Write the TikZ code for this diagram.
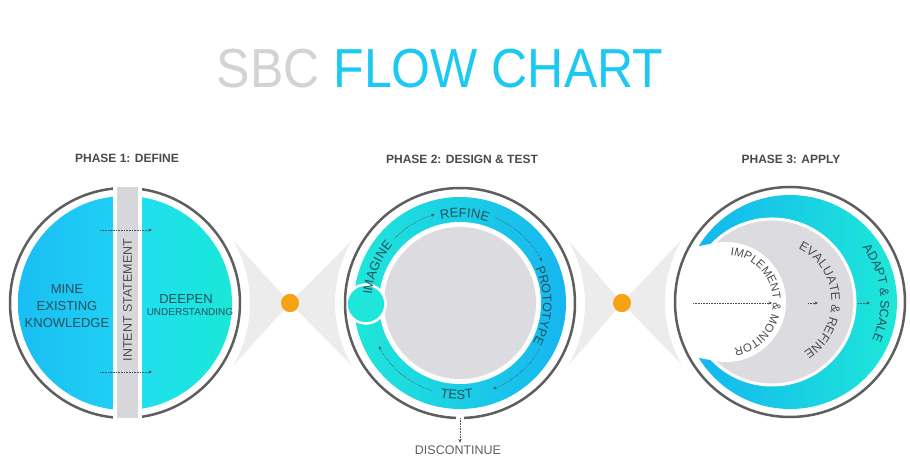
\documentclass[tikz,border=0pt]{standalone}
\usepackage{fontspec}
\setmainfont{Liberation Sans}
\usetikzlibrary{arrows.meta,decorations.text}
\definecolor{ringc}{HTML}{5E5E5E}
\definecolor{haloc}{HTML}{ECECEC}
\definecolor{dotc}{HTML}{F5A313}
\definecolor{blueA}{HTML}{19BDF3}
\definecolor{blueB}{HTML}{1FCFF4}
\definecolor{turqA}{HTML}{20DFEE}
\definecolor{turqB}{HTML}{18E8D4}
\definecolor{bandL}{HTML}{1FE6DA}
\definecolor{bandR}{HTML}{16B6F1}
\definecolor{crL}{HTML}{12B3F1}
\definecolor{crR}{HTML}{1EE8D8}
\definecolor{barc}{HTML}{D7D7DB}
\definecolor{diskc}{HTML}{DCDCE0}
\definecolor{txtc}{HTML}{4E4E4E}
\definecolor{bandtxt}{HTML}{25505B}
\definecolor{titlegray}{HTML}{D3D3D3}
\definecolor{titleblue}{HTML}{1BC9F2}
\definecolor{phasec}{HTML}{4A4A4A}
\newcommand{\ArcTxt}[7]{%
  \path[decorate, decoration={text along path, text align=center,
    text={|\fontsize{#5}{#5}\selectfont\color{#6}|#7}}]
    ([shift={(#3:#2)}]#1) arc[start angle=#3, end angle=#4, radius=#2];}
\tikzset{
  ringline/.style={draw=ringc, line width=2.5pt},
  dotarr/.style={draw=txtc, line width=0.5pt, dash pattern=on 0.7pt off 0.9pt,
    -{Stealth[length=3.5pt,width=3pt]}},
  phaselbl/.style={anchor=base, text=phasec, font=\bfseries\fontsize{12}{14}\selectfont},
  bigtxt/.style={anchor=base, text=bandtxt, font=\fontsize{13}{15}\selectfont},
  halo/.style={fill=haloc},
  orangedot/.style={circle, fill=dotc, minimum size=18pt, inner sep=0pt}
}
\begin{document}
\begin{tikzpicture}[x=1pt,y=1pt]
\useasboundingbox (0,0) rectangle (910,462);
\fill[white] (0,0) rectangle (910,462);
\coordinate (C1) at (125,159);
\coordinate (C2) at (460,159);
\coordinate (C3) at (790,160);
\coordinate (G3) at (772,160);
\coordinate (W2) at (726,160);

% title
\node[anchor=base, font=\fontsize{50}{60}\selectfont] (title) at (440,374)
  {\scalebox{1}[1.1]{\textcolor{titlegray}{SBC} \textcolor{titleblue}{FLOW CHART}}};

% phase labels
\node[phaselbl] (ph1) at (127,299) {PHASE 1: DEFINE};
\node[phaselbl] (ph2) at (462,298) {PHASE 2: DESIGN \& TEST};
\node[phaselbl] (ph3) at (791,298) {PHASE 3: APPLY};

% halos / bow ties
\node[orangedot] (D1) at (290,159) {};
\node[orangedot] (D2) at (622,159) {};
\fill[halo] (D1.center) -- ([shift={(30:125)}]C1) arc[start angle=30,end angle=-30,radius=125] -- cycle;
\fill[halo] (D1.center) -- ([shift={(150:125)}]C2) arc[start angle=150,end angle=210,radius=125] -- cycle;
\fill[halo] (D2.center) -- ([shift={(30:125)}]C2) arc[start angle=30,end angle=-30,radius=125] -- cycle;
\fill[halo] (D2.center) -- ([shift={(150:125)}]C3) arc[start angle=150,end angle=210,radius=125] -- cycle;
\fill[white] (C1) circle[radius=118.5];
\fill[white] (C2) circle[radius=118.5];
\fill[white] (C3) circle[radius=118.5];
\fill[dotc] (D1) circle[radius=9];
\fill[dotc] (D2) circle[radius=9];

% ---------- Phase 1 ----------
\begin{scope}
\clip (C1) circle[radius=107];
\shade[left color=blueA, right color=blueB] (12,40) rectangle (113,280);
\shade[left color=turqA, right color=turqB] (142,40) rectangle (240,280);
\end{scope}
\draw[ringline] (C1) circle[radius=115];
\fill[white] (113,40) rectangle (142,280);
\fill[barc] (117,44) rectangle (138,275);
\node[rotate=90, text=txtc, font=\fontsize{12.5}{14}\selectfont] (intent) at (127.5,162) {INTENT STATEMENT};
\coordinate (a1s) at (100,232);
\coordinate (a1e) at (152,232);
\coordinate (a2s) at (100,90);
\coordinate (a2e) at (152,90);
\draw[dotarr] (a1s) -- (a1e);
\draw[dotarr] (a2s) -- (a2e);
\node[bigtxt] (m1) at (67,168) {MINE};
\node[bigtxt] (m2) at (67,151) {EXISTING};
\node[bigtxt] (m3) at (67,134) {KNOWLEDGE};
\node[bigtxt] (d1) at (186,158) {DEEPEN};
\node[bigtxt, font=\fontsize{10}{12}\selectfont] (d2) at (190,146) {UNDERSTANDING};

% ---------- Phase 2 ----------
\shade[left color=bandL, right color=bandR] (C2) circle[radius=106];
\fill[white] (C2) circle[radius=81];
\fill[diskc] (C2) circle[radius=76];
\filldraw[fill=bandL, draw=white, line width=2.5pt] (366,158) circle[radius=19.5];
\draw[ringline] ([shift={(-88:115)}]C2) arc[start angle=-88, end angle=268, radius=115];
\ArcTxt{C2}{85.5}{117}{57}{13}{bandtxt}{REFINE}
\ArcTxt{C2}{83}{35}{-39}{12.5}{bandtxt}{PROTOTYPE}
\ArcTxt{C2}{88.5}{182}{132}{13}{bandtxt}{IMAGINE}
\ArcTxt{C2}{96}{248}{288}{13}{bandtxt}{TEST}
\draw[dotarr] ([shift={(136:92)}]C2) arc[start angle=136, end angle=106, radius=92];
\draw[dotarr] ([shift={(68:92)}]C2) arc[start angle=68, end angle=27, radius=92];
\draw[dotarr] ([shift={(-30:92)}]C2) arc[start angle=-30, end angle=-69, radius=92];
\draw[dotarr] ([shift={(-108:92)}]C2) arc[start angle=-108, end angle=-152, radius=92];
\node[anchor=base, text=txtc!90!white, font=\fontsize{12.5}{14}\selectfont] (dc) at (458,7) {DISCONTINUE};
\coordinate (dtop) at (460,44);
\draw[dotarr] (dtop) -- (dtop |- dc.north);

% ---------- Phase 3 ----------
\shade[left color=crL, right color=crR] (C3) circle[radius=107];
\begin{scope}
\clip (C3) circle[radius=108];
\fill[white] (715,160) circle[radius=58];
\filldraw[fill=diskc, draw=white, line width=3pt] (G3) circle[radius=83];
\fill[white] (W2) circle[radius=60];
\end{scope}
\draw[ringline] (C3) circle[radius=115];
\ArcTxt{C3}{90.5}{52}{-40}{12.5}{bandtxt}{ADAPT {\&} SCALE}
\ArcTxt{G3}{59.5}{77}{-71}{12.5}{txtc}{EVALUATE {\&} REFINE}
\ArcTxt{W2}{47}{100}{-96}{11.5}{txtc}{IMPLEMENT {\&} MONITOR}
\coordinate (b1s) at (693,159); \coordinate (b1e) at (772,159);
\coordinate (b2s) at (808,159); \coordinate (b2e) at (818,159);
\coordinate (b3s) at (858,159); \coordinate (b3e) at (870,159);
\draw[dotarr] (b1s) -- (b1e);
\draw[dotarr] (b2s) -- (b2e);
\draw[dotarr] (b3s) -- (b3e);
\end{tikzpicture}
\end{document}
